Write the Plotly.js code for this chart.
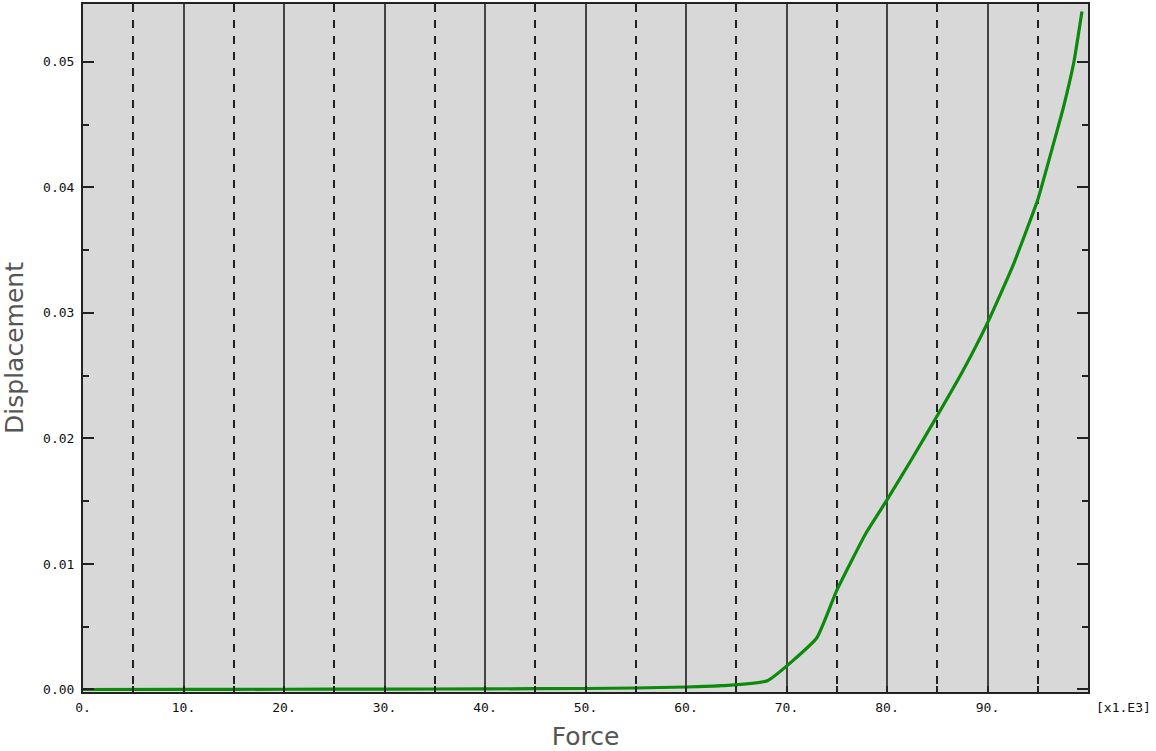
<!DOCTYPE html>
<html>
<head>
<meta charset="utf-8">
<script src="https://cdn.plot.ly/plotly-3.0.1.min.js"></script>
<style>html,body{margin:0;padding:0;background:#fff;}#chart{width:1156px;height:751px;}</style>
</head>
<body>
<div id="chart"></div>
<script>
// Force (x1.E3) and Displacement
const force = [0, 10, 20, 30, 40, 50, 55, 60, 63.5, 68.1, 73.0, 75.0, 77.9, 80.0, 82.5, 85.0, 87.5, 90.0, 92.5, 95.0, 96.3, 97.5, 98.6, 99.4];
const displacement = [0, 0.00001, 0.00002, 0.00003, 0.00005, 0.00008, 0.00012, 0.0002, 0.0003, 0.0007, 0.0041, 0.0079, 0.01245, 0.0151, 0.0184, 0.0218, 0.0253, 0.0292, 0.0337, 0.0390, 0.0427, 0.0462, 0.0500, 0.0540];
const xTickVals = [0, 10, 20, 30, 40, 50, 60, 70, 80, 90];
const xTickText = ['0.', '10.', '20.', '30.', '40.', '50.', '60.', '70.', '80.', '90.'];
const yTickVals = [0, 0.01, 0.02, 0.03, 0.04, 0.05];
const yTickText = ['0.00', '0.01', '0.02', '0.03', '0.04', '0.05'];

const tickFont = {family: 'DejaVu Sans Mono', size: 13, color: '#111'};
const titleFont = {family: 'DejaVu Sans', size: 25, color: '#555'};

const trace = {
  x: force, y: displacement, type: 'scatter', mode: 'lines',
  line: {color: '#0b8a0b', width: 3.2, shape: 'spline', smoothing: 0.4}, hoverinfo: 'skip'
};

const layout = {
  width: 1156, height: 751,
  margin: {l: 83, r: 68, t: 4, b: 59},
  paper_bgcolor: '#ffffff', plot_bgcolor: '#d8d8d8',
  showlegend: false,
  xaxis: {
    range: [0, 100], tickmode: 'array', tickvals: xTickVals, ticktext: xTickText,
    showgrid: true, gridcolor: '#444', gridwidth: 2,
    ticks: 'inside', ticklen: 6, tickwidth: 2, tickcolor: '#222',
    showline: true, linecolor: '#222', linewidth: 2, mirror: true,
    zeroline: false, tickfont: tickFont, ticklabelstandoff: 2,
    minor: {tickmode: 'linear', tick0: 5, dtick: 10, showgrid: true, griddash: '8px,8px', gridcolor: '#222', gridwidth: 2, ticks: 'inside', ticklen: 6, tickcolor: '#222'},
    title: {text: 'Force', font: titleFont, standoff: 14}
  },
  yaxis: {
    range: [-0.0002, 0.0546], tickmode: 'array', tickvals: yTickVals, ticktext: yTickText,
    showgrid: false, zeroline: false,
    ticks: 'inside', ticklen: 11, tickwidth: 2, tickcolor: '#222',
    showline: true, linecolor: '#222', linewidth: 2, mirror: 'ticks',
    tickfont: tickFont, ticklabelstandoff: 4,
    minor: {tickmode: 'linear', tick0: 0.005, dtick: 0.01, ticks: 'inside', ticklen: 6, tickwidth: 2, tickcolor: '#222', showgrid: false},
    title: {text: 'Displacement', font: titleFont, standoff: 12}
  },
  annotations: [{
    text: '[x1.E3]', xref: 'paper', yref: 'paper', x: 1, y: 0, xanchor: 'left', yanchor: 'top',
    xshift: 6, yshift: -6, showarrow: false, font: tickFont
  }]
};

Plotly.newPlot('chart', [trace], layout, {displayModeBar: false, staticPlot: true});
</script>
</body>
</html>
